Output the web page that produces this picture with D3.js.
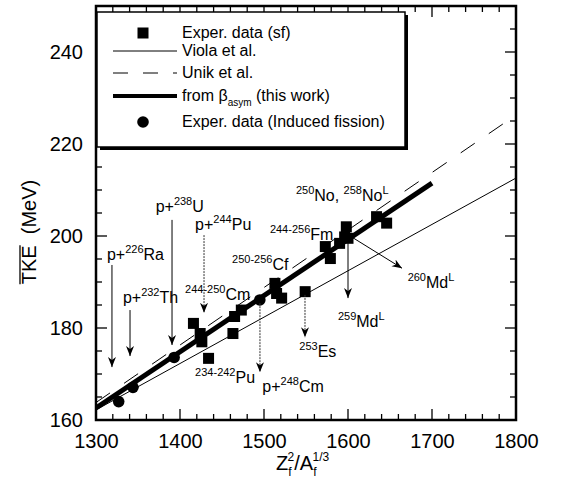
<!DOCTYPE html>
<html><head><meta charset="utf-8">
<script src="https://cdn.jsdelivr.net/npm/d3@7"></script>
<style>body{margin:0;background:#fff}svg{display:block;font-family:"Liberation Sans",Arial,Helvetica,sans-serif}</style>
</head><body>
<svg id="c" width="561" height="493"></svg>
<script>
// ---- data ----
const sfX = [1416,1424,1426,1434,1463,1465,1473,1513,1515,1521,1549,1573,1579,1590,1596,1598,1600,1634,1646];
const sfY = [181.0,178.8,177.0,173.4,178.8,182.5,183.9,189.7,187.5,186.5,187.9,197.7,195.1,198.4,199.8,202.0,199.5,204.2,202.8];
const indX = [1327,1344,1393,1495];
const indY = [164.0,167.1,173.6,186.1];
const violaX = [1300,1800], violaY = [162.2,212.6];
const unikX = [1300,1800], unikY = [163.8,226.3];
const thisX = [1300,1700], thisY = [162.6,211.5];
const xTicks = [1300,1400,1500,1600,1700,1800];
const yTicks = [160,180,200,220,240];
const legendLabels = ["Exper. data (sf)","Viola  et al.","Unik et al.","from \u03b2","Exper. data (Induced fission)"];

// annotations: parts [text, kind] ; kind: n normal, s superscript
const annots = [
  {x:1313,y:194.8,parts:[["p+","n"],["226","s"],["Ra","n"]],arrow:[1319,193.7,1319,171.5],dash:false},
  {x:1332,y:185.4,parts:[["p+","n"],["232","s"],["Th","n"]],arrow:[1340.5,183.9,1340.5,173.9],dash:false},
  {x:1371,y:205.2,parts:[["p+","n"],["238","s"],["U","n"]],arrow:[1390.5,203.5,1390.5,176.3],dash:false},
  {x:1418,y:201.3,parts:[["p+","n"],["244","s"],["Pu","n"]],arrow:[1428.6,200.2,1428.6,183.3],dash:true},
  {x:1406,y:186.1,parts:[["244-250","s"],["Cm","n"]]},
  {x:1462,y:192.6,parts:[["250-256","s"],["Cf","n"]]},
  {x:1507,y:199.1,parts:[["244-256","s"],["Fm","n"]]},
  {x:1538,y:207.6,parts:[["250","s"],["No, ","n"],["258","s"],["No","n"],["L","s"]]},
  {x:1671,y:188.7,parts:[["260","s"],["Md","n"],["L","s"]],arrow:[1606,199.6,1664.3,193.0],dash:false},
  {x:1588,y:180.2,parts:[["259","s"],["Md","n"],["L","s"]],arrow:[1600,199.1,1600,186.5],dash:false},
  {x:1542,y:173.7,parts:[["253","s"],["Es","n"]],arrow:[1548.8,187.2,1548.8,178.0],dash:true},
  {x:1418,y:168.0,parts:[["234-242","s"],["Pu","n"]]},
  {x:1498,y:166.1,parts:[["p+","n"],["248","s"],["Cm","n"]],arrow:[1495.2,185.4,1495.2,170.4],dash:true}
];

const svg = d3.select("#c");
const x = d3.scaleLinear().domain([1300,1800]).range([96,516]);
const y = d3.scaleLinear().domain([160,250]).range([420,6]);

const defs = svg.append("defs");
defs.append("marker").attr("id","ah").attr("viewBox","0 0 10 10").attr("refX",10).attr("refY",5)
  .attr("markerWidth",10).attr("markerHeight",10).attr("markerUnits","userSpaceOnUse").attr("orient","auto")
  .append("path").attr("d","M0,1 L10,5 L0,9 L3,5 Z").attr("fill","#000");

// ticks (inward)
const tk = svg.append("g").attr("stroke","#000").attr("stroke-width",1.3);
d3.range(1300,1801,20).forEach(v=>{
  const L = v%100===0?11:6;
  tk.append("line").attr("x1",x(v)).attr("x2",x(v)).attr("y1",y(160)).attr("y2",y(160)-L);
  tk.append("line").attr("x1",x(v)).attr("x2",x(v)).attr("y1",y(250)).attr("y2",y(250)+L);
});
d3.range(160,251,5).forEach(v=>{
  const L = v%20===0?11:6;
  tk.append("line").attr("y1",y(v)).attr("y2",y(v)).attr("x1",x(1300)).attr("x2",x(1300)+L);
  tk.append("line").attr("y1",y(v)).attr("y2",y(v)).attr("x1",x(1800)).attr("x2",x(1800)-L);
});

// tick labels via axes
const xa = svg.append("g").attr("transform",`translate(0,${y(160)})`)
  .call(d3.axisBottom(x).tickValues(xTicks).tickSize(0).tickPadding(14).tickFormat(d3.format("d")));
const ya = svg.append("g").attr("transform",`translate(${x(1300)},0)`)
  .call(d3.axisLeft(y).tickValues(yTicks).tickSize(0).tickPadding(13).tickFormat(d3.format("d")));
[xa,ya].forEach(a=>{a.select(".domain").remove();a.selectAll("text").attr("font-size",20).attr("font-family","Liberation Sans, Arial, sans-serif").attr("fill","#000");});

// lines
const line = d3.line().x(d=>x(d[0])).y(d=>y(d[1]));
const clip = defs.append("clipPath").attr("id","pc").append("rect").attr("x",x(1300)).attr("y",y(250)).attr("width",x(1800)-x(1300)).attr("height",y(160)-y(250));
const pg = svg.append("g").attr("clip-path","url(#pc)");
pg.append("path").attr("d",line(d3.zip(violaX,violaY))).attr("stroke","#000").attr("stroke-width",1).attr("fill","none");
pg.append("path").attr("d",line(d3.zip(unikX,unikY))).attr("stroke","#000").attr("stroke-width",1).attr("stroke-dasharray","17,17").attr("fill","none");
pg.append("path").attr("d",line(d3.zip(thisX,thisY))).attr("stroke","#000").attr("stroke-width",5).attr("fill","none");

// markers
const S = 11;
pg.selectAll("rect.sf").data(d3.zip(sfX,sfY)).join("rect").attr("class","sf")
  .attr("x",d=>x(d[0])-S/2).attr("y",d=>y(d[1])-S/2).attr("width",S).attr("height",S).attr("fill","#000");
pg.selectAll("circle.ind").data(d3.zip(indX,indY)).join("circle").attr("class","ind")
  .attr("cx",d=>x(d[0])).attr("cy",d=>y(d[1])).attr("r",5.8).attr("fill","#000");

// annotations
annots.forEach(a=>{
  if(a.arrow){
    svg.append("line").attr("x1",x(a.arrow[0])).attr("y1",y(a.arrow[1])).attr("x2",x(a.arrow[2])).attr("y2",y(a.arrow[3]))
      .attr("stroke",a.dash?"#333":"#000").attr("stroke-width",1).attr("stroke-dasharray",a.dash?"2,1":null).attr("marker-end","url(#ah)");
  }
  const t = svg.append("text").attr("x",x(a.x)).attr("y",y(a.y)).attr("font-size",16).attr("fill","#000");
  let up=false;
  a.parts.forEach(p=>{
    const ts=t.append("tspan").text(p[0]);
    if(p[1]==="s"){ts.attr("font-size",11).attr("dy",up?0:-7);up=true;}
    else {ts.attr("dy",up?7:0);up=false;}
  });
});

// frame
svg.append("rect").attr("x",x(1300)).attr("y",y(250)).attr("width",x(1800)-x(1300)).attr("height",y(160)-y(250))
  .attr("fill","none").attr("stroke","#000").attr("stroke-width",2.5);

// legend
const lg = svg.append("g");
lg.append("rect").attr("x",100).attr("y",15).attr("width",308).attr("height",135).attr("fill","#000");
lg.append("rect").attr("x",97).attr("y",12).attr("width",308).attr("height",135).attr("fill","#fff").attr("stroke","#000").attr("stroke-width",1.5);
const ly = [33,51,73,96,122];
lg.append("rect").attr("x",143-5.5).attr("y",ly[0]-5.5).attr("width",11).attr("height",11).attr("fill","#000");
lg.append("line").attr("x1",113).attr("x2",177).attr("y1",ly[1]).attr("y2",ly[1]).attr("stroke","#000").attr("stroke-width",1);
lg.append("line").attr("x1",113).attr("x2",177).attr("y1",ly[2]).attr("y2",ly[2]).attr("stroke","#000").attr("stroke-width",1).attr("stroke-dasharray","15,15");
lg.append("line").attr("x1",113).attr("x2",177).attr("y1",ly[3]).attr("y2",ly[3]).attr("stroke","#000").attr("stroke-width",4);
lg.append("circle").attr("cx",143).attr("cy",ly[4]).attr("r",5.8).attr("fill","#000");
legendLabels.forEach((s,i)=>{
  const t = lg.append("text").attr("x",182).attr("y",ly[i]+5).attr("font-size",16).attr("fill","#000").text(s);
  if(i===3){
    t.append("tspan").attr("font-size",10).attr("dy",5).text("asym");
    t.append("tspan").attr("dy",-5).text(" (this work)");
  }
});

// axis titles
const xt = svg.append("text").attr("x",276).attr("y",470).attr("font-size",20).attr("fill","#000");
xt.append("tspan").text("Z");
xt.append("tspan").attr("font-size",12).attr("dy",6).text("f");
xt.append("tspan").attr("font-size",12).attr("dx",-4).attr("dy",-15).text("2");
xt.append("tspan").attr("dy",9).text("/A");
xt.append("tspan").attr("font-size",12).attr("dy",6).text("f");
xt.append("tspan").attr("font-size",12).attr("dx",-4).attr("dy",-15).text("1/3");

const yt = svg.append("text").attr("transform","translate(36,232) rotate(-90)").attr("text-anchor","middle").attr("font-size",20).attr("fill","#000");
const tke = yt.append("tspan").text("TKE");
yt.append("tspan").text("  (MeV)").attr("xml:space","preserve");
const n = yt.node();
const st = n.getStartPositionOfChar(0), L = n.getSubStringLength(0,3);
svg.append("line").attr("transform","translate(36,232) rotate(-90)")
  .attr("x1",st.x).attr("x2",st.x+L).attr("y1",-16).attr("y2",-16).attr("stroke","#000").attr("stroke-width",1.3);
</script>
</body></html>
